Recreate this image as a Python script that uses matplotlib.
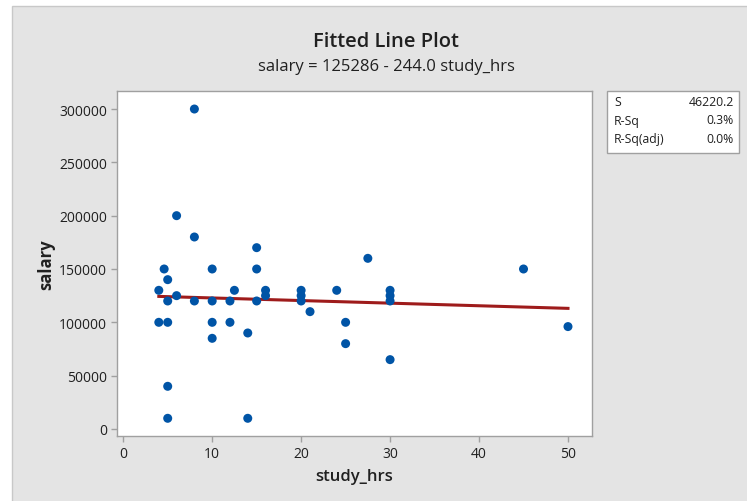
import matplotlib
matplotlib.use("Agg")
import matplotlib.pyplot as plt
from matplotlib.patches import Rectangle
import numpy as np

study_hrs = [8, 6, 8, 4.6, 5, 4, 4, 5, 5, 5, 5, 6, 8,
             10, 10, 10, 10, 12, 12, 12.5, 14, 14, 15, 15, 15,
             16, 16, 20, 20, 20, 21, 24, 25, 25, 27.5, 30, 30, 30, 30, 45, 50]
salary = [300000, 200000, 180000, 150000, 140000, 130000, 100000, 120000, 100000, 40000, 10000, 125000, 120000,
          150000, 120000, 100000, 85000, 120000, 100000, 130000, 90000, 10000, 170000, 150000, 120000,
          130000, 125000, 130000, 125000, 120000, 110000, 130000, 100000, 80000, 160000, 130000, 125000, 120000, 65000, 150000, 96000]

intercept = 125286
slope = -244.0
stat_names = ["S", "R-Sq", "R-Sq(adj)"]
stat_values = ["46220.2", "0.3%", "0.0%"]

x_ticks = [0, 10, 20, 30, 40, 50]
y_ticks = [0, 50000, 100000, 150000, 200000, 250000, 300000]

FONT = ["Open Sans", "DejaVu Sans"]
plt.rcParams['font.family'] = FONT

W, H = 747, 502
fig = plt.figure(figsize=(W / 100, H / 100), dpi=100)
fig.patch.set_facecolor("white")
bg = Rectangle((12 / W, -0.05), 1.05 - 12 / W, 0.05 + (H - 7) / H, transform=fig.transFigure,
               facecolor="#E4E4E4", edgecolor="#C8C8C8", linewidth=1, zorder=-10)
fig.patches.append(bg)

ax = fig.add_axes([117 / W, (H - 437) / H, (592 - 117) / W, (437 - 92) / H])
ax.set_facecolor("white")
for s in ax.spines.values():
    s.set_color("#A0A0A0")
    s.set_linewidth(1)

xs = np.array(study_hrs, dtype=float)
ys = np.array(salary, dtype=float)
xf = np.array([min(xs), max(xs)])
ax.plot(xf, intercept + slope * xf, color="#9E1B1B", linewidth=2.2, zorder=2)
ax.scatter(xs, ys, s=42, color="#0054A6", edgecolors="none", zorder=3)

ax.set_xlim(-0.7, 52.7)
ax.set_ylim(-6600, 316900)
ax.set_xticks(x_ticks)
ax.set_yticks(y_ticks)
ax.set_xticklabels([str(v) for v in x_ticks])
ax.set_yticklabels([str(v) for v in y_ticks])
ax.tick_params(axis="both", direction="out", length=4, width=1, color="#A0A0A0",
               labelsize=10, labelcolor="#202020", pad=3)

ax.set_xlabel("study_hrs", fontsize=12, fontweight="semibold", color="#202020", labelpad=5)
ax.set_ylabel("salary", fontsize=12, fontweight="bold", color="#202020", labelpad=3)

fig.text(386 / W, 1 - 42 / H, "Fitted Line Plot", ha="center", va="center",
         fontsize=14.5, fontweight="semibold", color="#202020")
fig.text(386 / W, 1 - 67 / H, "salary = 125286 - 244.0 study_hrs", ha="center", va="center",
         fontsize=12, color="#202020")

box = Rectangle((607 / W, 1 - 154 / H), (739 - 607) / W, (154 - 92) / H, transform=fig.transFigure,
                facecolor="white", edgecolor="#A0A0A0", linewidth=1)
fig.patches.append(box)
rows_y = [102, 121, 140]
for name, val, yy in zip(stat_names, stat_values, rows_y):
    fig.text(614 / W, 1 - yy / H, name, ha="left", va="center", fontsize=8.8, color="#202020")
    fig.text(734 / W, 1 - yy / H, val, ha="right", va="center", fontsize=8.8, color="#202020")

fig.savefig("out.png", dpi=100)
